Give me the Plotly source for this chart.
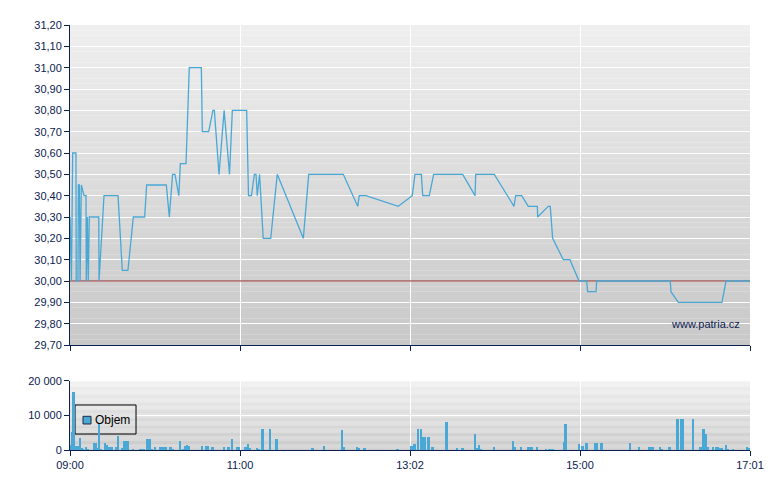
import plotly.graph_objects as go

# ---- data -------------------------------------------------------------
# x positions in minutes from the 09:00 open (axis spans 0..480)
price_minutes = [0, 1.0, 1.9, 4.2, 4.4, 5.6, 5.9, 6.6, 7.1, 8.0, 9.9, 11.3, 11.5, 12.2, 12.9,
                 13.6, 20.3, 20.5, 24.0, 33.9, 36.9, 40.9, 44.7, 52.7, 54.1, 68.0, 70.1, 72.4,
                 74.1, 76.8, 77.9, 81.9, 84.2, 92.7, 93.4, 97.9, 100.9, 101.9, 105.2, 108.8,
                 112.6, 114.6, 124.7, 126.0, 128.1, 130.1, 131.3, 132.2, 133.8, 136.4, 141.7,
                 146.3, 164.7, 168.5, 192.9, 203.1, 204.2, 208.9, 231.7, 241.6, 243.5, 248.0,
                 249.0, 253.6, 256.7, 277.2, 285.9, 286.4, 299.5, 313.4, 314.6, 318.8, 323.5,
                 329.9, 330.1, 337.6, 339.0, 340.7, 348.2, 352.9, 359.3, 364.7, 365.4, 371.3,
                 371.8, 423.7, 424.2, 429.4, 460.2, 463.1, 480]
price_values = [30.30, 30.00, 30.60, 30.60, 30.00, 30.00, 30.45, 30.45, 30.00, 30.45, 30.40,
                30.40, 30.00, 30.30, 30.00, 30.30, 30.30, 30.00, 30.40, 30.40, 30.05, 30.05,
                30.30, 30.30, 30.45, 30.45, 30.30, 30.50, 30.50, 30.40, 30.55, 30.55, 31.00,
                31.00, 30.70, 30.70, 30.80, 30.80, 30.50, 30.80, 30.50, 30.80, 30.80, 30.40,
                30.40, 30.50, 30.50, 30.40, 30.50, 30.20, 30.20, 30.50, 30.20, 30.50, 30.50,
                30.35, 30.40, 30.40, 30.35, 30.40, 30.50, 30.50, 30.40, 30.40, 30.50, 30.50,
                30.40, 30.50, 30.50, 30.35, 30.40, 30.40, 30.35, 30.35, 30.30, 30.35, 30.35,
                30.20, 30.10, 30.10, 30.00, 30.00, 29.95, 29.95, 30.00, 30.00, 29.95, 29.90,
                29.90, 30.00, 30.00]

volume_minutes = [0.9, 1.6, 2.8, 3.9, 5.4, 7.1, 8.5, 9.5, 11.3, 12.7, 17.5, 18.6, 19.4, 20.5,
                  21.9, 24.7, 26.0, 27.9, 29.3, 32.8, 33.9, 37.1, 38.8, 40.7, 44.5, 50.1, 51.9,
                  54.4, 56.3, 57.9, 60.0, 64.2, 65.9, 67.6, 71.1, 72.6, 78.0, 79.8, 81.2, 82.6,
                  84.0, 93.2, 96.0, 97.4, 100.9, 108.7, 112.2, 114.4, 117.9, 119.5, 124.2,
                  125.7, 127.1, 132.0, 133.4, 136.2, 141.2, 146.1, 171.5, 179.3, 192.0, 193.3,
                  202.6, 204.0, 208.2, 231.5, 241.4, 243.5, 245.7, 247.8, 249.0, 250.6, 253.4,
                  256.2, 266.1, 273.2, 277.4, 285.9, 287.7, 288.7, 290.1, 299.3, 312.7, 314.1,
                  318.4, 323.3, 324.7, 326.1, 330.0, 336.0, 338.8, 340.9, 349.1, 350.1, 359.3,
                  362.1, 364.9, 370.6, 371.8, 375.5, 395.3, 401.7, 409.4, 411.5, 416.5, 417.9,
                  423.5, 429.1, 431.3, 432.4, 439.8, 445.4, 447.5, 449.0, 450.4, 453.9, 456.0,
                  457.1, 458.1, 460.2, 463.1, 464.5, 468.0, 477.9, 479.3]
volume_values = [1440, 5280, 16800, 1150, 1150, 3500, 480, 200, 860, 290, 2020, 2020, 480, 7700,
                 290, 2020, 1540, 870, 870, 770, 4040, 580, 2600, 2600, 290, 290, 290,
                 3200, 3200, 290, 870, 870, 870, 870, 770, 290, 2650, 290, 1150, 1440,
                 1150, 1150, 1150, 1150, 870, 870, 870, 3170, 870, 870, 870,
                 1730, 580, 580, 290, 6060, 6060, 3170, 580, 1150, 5770, 870,
                 870, 580, 580, 290, 1150, 1730, 6060, 6060, 3740, 3740, 3740,
                 860, 8060, 576, 576, 4600, 576, 1440, 290, 860, 2590, 860,
                 860, 860, 860, 860, 860, 290, 290, 290, 2300, 7490, 1730,
                 1150, 2020, 2020, 2020, 2020, 2020, 860, 860, 860, 860, 290,
                 860, 8930, 8930, 8930, 8930, 860, 6050, 4610, 860, 860, 860,
                 860, 576, 576, 1440, 290, 290, 860, 576]

tick_minutes = [0, 120, 240, 360, 480]
tick_labels = ["09:00", "11:00", "13:02", "15:00", "17:01"]
price_ticks = [29.7, 29.8, 29.9, 30.0, 30.1, 30.2, 30.3, 30.4, 30.5, 30.6, 30.7, 30.8, 30.9,
               31.0, 31.1, 31.2]
volume_ticks = [0, 10000, 20000]
prev_close = 30.00
legend_label = "Objem"

# ---- style --------------------------------------------------------------
NAVY = "#0c2150"
LINE = "#4aa8d6"
FONT = "Liberation Sans, Arial, sans-serif"

# legend box (paper coordinates of the plotting area)
LEG_X0, LEG_X1, LEG_Y0, LEG_Y1 = 0.0074, 0.0971, 0.0376, 0.1059

fig = go.Figure()

# previous close reference line (drawn first, so the price line sits on top)
fig.add_trace(go.Scatter(x=[tick_minutes[0], tick_minutes[-1]], y=[prev_close, prev_close],
                         mode="lines", line=dict(color="#8c2222", width=1),
                         showlegend=False, hoverinfo="skip", xaxis="x", yaxis="y"))
fig.add_trace(go.Scatter(x=price_minutes, y=price_values, mode="lines",
                         line=dict(color=LINE, width=1.3), showlegend=False,
                         xaxis="x", yaxis="y"))
fig.add_trace(go.Bar(x=volume_minutes, y=volume_values, width=1.4, name=legend_label,
                     marker=dict(color=LINE, line=dict(width=0)),
                     xaxis="x2", yaxis="y2", showlegend=False))


def gradient_shapes(xref, yref, top, bottom, n=60):
    shapes = []
    for i in range(n):
        t = (i + 0.5) / n
        c = [round(bottom[k] + (top[k] - bottom[k]) * t) for k in range(3)]
        shapes.append(dict(type="rect", xref=xref, yref=yref, x0=0, x1=1,
                           y0=i / n, y1=(i + 1) / n, layer="below",
                           line=dict(width=0), fillcolor="rgb(%d,%d,%d)" % tuple(c)))
    return shapes


shapes = gradient_shapes("x domain", "y domain", (239, 239, 239), (200, 200, 200))
shapes += gradient_shapes("x2 domain", "y2 domain", (239, 239, 239), (202, 202, 202))

# volume horizontal grid lines (the 10 000 line stops at the legend box)
for v in volume_ticks[1:]:
    shapes.append(dict(type="line", xref="paper", yref="y2",
                       x0=LEG_X1 if v == volume_ticks[1] else 0, x1=1, y0=v, y1=v,
                       layer="below", line=dict(color="white", width=1)))

# legend frame and swatch (under the bars, like the reference)
shapes.append(dict(type="rect", xref="paper", yref="paper", x0=LEG_X0, x1=LEG_X1,
                   y0=LEG_Y0, y1=LEG_Y1, layer="below",
                   line=dict(color="black", width=1), fillcolor="rgba(0,0,0,0)"))
shapes.append(dict(type="rect", xref="paper", yref="paper", x0=0.0191, x1=0.0309,
                   y0=0.0612, y1=0.0793, layer="above",
                   line=dict(color="#1b2b40", width=1), fillcolor=LINE))

axis_common = dict(showline=True, linecolor=NAVY, linewidth=1, ticks="outside",
                   tickcolor=NAVY, ticklen=5, gridcolor="white", gridwidth=1,
                   zeroline=False, tickfont=dict(family=FONT, size=11, color=NAVY))

fig.update_layout(
    width=780, height=490,
    margin=dict(l=62, r=38, t=17, b=48),
    paper_bgcolor="white", plot_bgcolor="rgba(0,0,0,0)",
    separators=", ",
    font=dict(family=FONT, size=11, color=NAVY),
    shapes=shapes,
    showlegend=False,
    xaxis=dict(domain=[0, 1], range=[0, 480], tickvals=tick_minutes, ticktext=tick_labels,
               showticklabels=False, anchor="y", **axis_common),
    yaxis=dict(domain=[0.247, 1], range=[29.7, 31.2], tickvals=price_ticks,
               tickformat=".2f", anchor="x", **axis_common),
    xaxis2=dict(domain=[0, 1], range=[0, 480], tickvals=tick_minutes, ticktext=tick_labels,
                anchor="y2", **axis_common),
    yaxis2=dict(domain=[0, 0.1624], range=[0, 20000], tickvals=volume_ticks,
                tickformat=",d", anchor="x2", showgrid=False,
                **{k: v for k, v in axis_common.items() if k != "gridcolor"}),
    bargap=0,
    annotations=[
        dict(text="www.patria.cz", xref="x domain", yref="y domain",
             x=0.988, y=0.065, xanchor="right", yanchor="middle",
             showarrow=False, font=dict(family=FONT, size=11, color=NAVY)),
        dict(text=legend_label, xref="paper", yref="paper", x=0.0345, y=0.0699,
             xanchor="left", yanchor="middle", showarrow=False,
             font=dict(family=FONT, size=12, color="black")),
    ],
)

fig.write_html("out.html")
